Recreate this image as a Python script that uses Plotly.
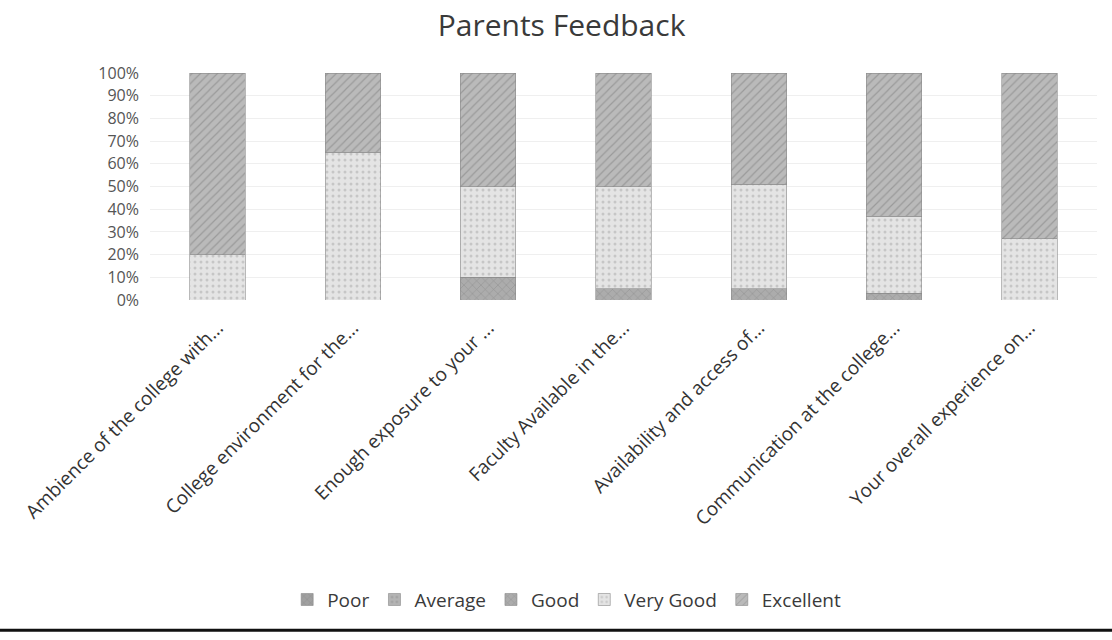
import plotly.graph_objects as go

categories = [
    "Ambience of the college with...",
    "College environment for the...",
    "Enough exposure to your ...",
    "Faculty Available in the...",
    "Availability and access of...",
    "Communication at the college...",
    "Your overall experience on...",
]
series_names = ["Poor", "Average", "Good", "Very Good", "Excellent"]
poor = [0, 0, 0, 0, 0, 0, 0]
average = [0, 0, 0, 0, 0, 0, 0]
good = [0, 0, 10, 5, 5, 3, 0]
very_good = [20, 65, 40, 45, 46, 34, 27]
excellent = [80, 35, 50, 50, 49, 63, 73]
y_ticks = list(range(0, 101, 10))
y_tick_labels = [f"{v}%" for v in y_ticks]

series_values = [poor, average, good, very_good, excellent]
colors = ["#a0a0a0", "#b4b4b4", "#acacac", "#e4e4e4", "#bababa"]
patterns = ["x", ".", "x", ".", "/"]
fgcolors = ["#777777", "#888888", "#7a7a7a", "#a8a8a8", "#7a7a7a"]

fig = go.Figure()
for name, vals, col, pat, fg in zip(series_names, series_values, colors, patterns, fgcolors):
    fig.add_trace(go.Bar(
        name=name, x=categories, y=vals,
        marker=dict(color=col, line=dict(color="#8a8a8a", width=0.6),
                    pattern=dict(shape=pat, fgcolor=fg, size=6, solidity=0.2)),
    ))

fig.update_layout(
    barmode="stack", barnorm="percent", bargap=0.59,
    width=1112, height=640,
    margin=dict(l=150, r=15, t=73, b=340, autoexpand=False),
    paper_bgcolor="white", plot_bgcolor="white",
    font=dict(family="Open Sans", color="#3a3a3a", size=19),
    title=dict(text="Parents Feedback", x=0.505, xanchor="center", y=0.960, yanchor="middle",
               font=dict(size=30, color="#3a3a3a")),
    showlegend=True,
    legend=dict(orientation="h", x=0.44, xanchor="center", y=-1.32, yanchor="middle",
                font=dict(size=19, color="#3a3a3a"), traceorder="normal", itemwidth=30),
    xaxis=dict(tickangle=-45, tickfont=dict(size=19, color="#333333"), showgrid=False,
               showline=False, ticks="", automargin=False, ticklabelstandoff=12),
    yaxis=dict(range=[0, 100], tickmode="array", tickvals=y_ticks, ticktext=y_tick_labels,
               showgrid=True, gridcolor="#efefef", zeroline=False, automargin=False,
               tickfont=dict(size=16, color="#555555"), ticklabelstandoff=10),
    shapes=[dict(type="line", xref="paper", yref="paper", x0=-0.16, x1=1.02,
                 y0=-1.455, y1=-1.455, line=dict(color="#111111", width=3))],
)

fig.write_html("out.html", config={"displayModeBar": False},
               post_script="document.body.style.margin='0';")
